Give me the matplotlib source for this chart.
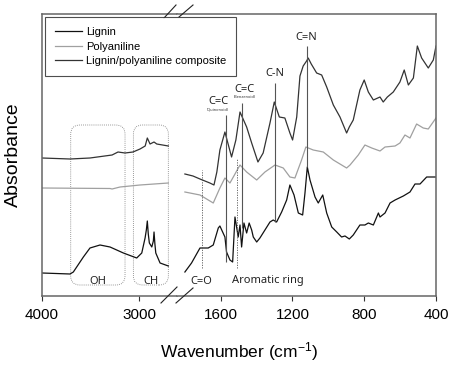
import matplotlib.pyplot as plt
from matplotlib.patches import FancyBboxPatch
from matplotlib.lines import Line2D

plt.rcParams['font.family'] = ['Liberation Sans', 'DejaVu Sans']
plt.rcParams['mathtext.default'] = 'regular'

# ---- high wavenumber region (left panel) ----
hi_comp_wn = [4000, 3712, 3507, 3280, 3219, 3147, 3065, 2993, 2940, 2918, 2890, 2849, 2821, 2702]
hi_comp = [138, 137, 138, 141, 144, 143, 144, 147, 150, 158, 152, 154, 152, 150]

hi_pani_wn = [4000, 3301, 3280, 3198, 2993, 2702]
hi_pani = [108, 107.5, 107, 109, 111, 113]

hi_lig_wn = [4000, 3712, 3678, 3575, 3507, 3404, 3301, 3164, 3027, 2975, 2941, 2928, 2918,
             2908, 2897, 2872, 2856, 2849, 2840, 2831, 2787, 2702]
hi_lig = [23, 22, 24, 39, 48, 51, 49, 43, 38, 43, 58, 66, 75, 62, 53, 49, 55, 64, 52, 43, 33, 30]

# ---- fingerprint region (right panel) ----
lo_comp_wn = [1799, 1754, 1715, 1660, 1637, 1621, 1604, 1576, 1539, 1515, 1492, 1455, 1427, 1392,
              1363, 1325, 1301, 1273, 1242, 1214, 1199, 1176, 1158, 1140, 1121, 1112, 1095, 1065,
              1037, 1009, 972, 935, 898, 883, 861, 824, 800, 777, 749, 712, 694, 671, 638, 601,
              577, 554, 526, 504, 480, 443, 415, 400]
lo_comp = [122, 120, 117, 113, 111, 124, 146, 164, 139, 156, 184, 169, 153, 134, 143, 173, 194,
           179, 178, 163, 156, 179, 220, 230, 235, 238, 232, 223, 221, 209, 191, 179, 163, 169,
           176, 206, 216, 204, 196, 199, 194, 199, 204, 214, 226, 211, 218, 250, 238, 228, 236, 250]

lo_pani_wn = [1799, 1715, 1641, 1604, 1576, 1548, 1492, 1455, 1399, 1353, 1297, 1251, 1214, 1186,
              1149, 1125, 1084, 1028, 972, 898, 879, 833, 796, 758, 712, 684, 628, 601, 573, 545,
              508, 471, 443, 400]
lo_pani = [104, 101, 93, 108, 118, 113, 131, 124, 116, 124, 131, 128, 119, 118, 136, 149, 146,
           144, 136, 128, 131, 141, 151, 148, 145, 149, 150, 153, 161, 158, 172, 168, 167, 178]

lo_lig_wn = [1799, 1762, 1715, 1669, 1641, 1613, 1604, 1576, 1567, 1548, 1533, 1520, 1502, 1492,
             1483, 1470, 1455, 1441, 1427, 1418, 1399, 1381, 1353, 1325, 1307, 1288, 1260, 1232,
             1214, 1191, 1167, 1143, 1130, 1117, 1102, 1074, 1056, 1031, 1009, 981, 953, 926, 907,
             883, 861, 824, 796, 777, 749, 721, 712, 684, 656, 628, 582, 545, 517, 489, 452, 415, 400]
lo_lig = [24, 33, 48, 48, 51, 68, 70, 59, 44, 36, 34, 79, 59, 71, 49, 73, 63, 73, 66, 59, 54, 58,
          66, 74, 76, 74, 84, 96, 111, 101, 83, 81, 103, 129, 116, 99, 93, 101, 83, 69, 64, 59, 60,
          57, 61, 71, 71, 73, 71, 83, 79, 83, 93, 96, 100, 104, 112, 112, 119, 119, 119]

# band assignments (solid lines with labels)
band_wn = [1570, 1483, 1297, 1121]
band_top = [181, 193, 213, 250]
band_bot = [34, 68, 74, 129]
band_lbl = ['C=C', 'C=C', 'C-N', 'C=N']
band_sub = ['(Quinonoid)', '(Benzenoid)', '', '']
band_lbl_x = [1613, 1467, 1297, 1121]
band_lbl_y = [194, 206, 222, 259]

# dashed markers at the bottom
mark_wn = [1706, 1511]
mark_top = [126, 138]
mark_bot = [28, 28]
mark_lbl = ['C=O', 'Aromatic ring']
mark_lbl_x = [1706, 1336]

# rounded regions on the left panel
reg_lbl = ['OH', 'CH']
reg_lo = [3147, 2702]
reg_hi = [3705, 3061]

W, H = 452, 369
fig = plt.figure(figsize=(W / 100, H / 100), dpi=100)

x0, xb, x1 = 42, 177, 436
yt, yb = 14, 296
ax1 = fig.add_axes([x0 / W, 1 - yb / H, (xb - x0) / W, (yb - yt) / H])
ax2 = fig.add_axes([xb / W, 1 - yb / H, (x1 - xb) / W, (yb - yt) / H])

c_lig, c_pani, c_comp = '#111111', '#a0a0a0', '#333333'
lw = 0.9

ax1.plot(hi_lig_wn, hi_lig, color=c_lig, lw=lw, label='Lignin')
ax1.plot(hi_pani_wn, hi_pani, color=c_pani, lw=lw, label='Polyaniline')
ax1.plot(hi_comp_wn, hi_comp, color=c_comp, lw=lw, label='Lignin/polyaniline composite')

ax2.plot(lo_lig_wn, lo_lig, color=c_lig, lw=lw)
ax2.plot(lo_pani_wn, lo_pani, color=c_pani, lw=lw)
ax2.plot(lo_comp_wn, lo_comp, color=c_comp, lw=lw)

ax1.set_xlim(4000, 2613)
ax2.set_xlim(1843, 400)
for ax in (ax1, ax2):
    ax.set_ylim(0, yb - yt)
    ax.set_yticks([])
    for s in ax.spines.values():
        s.set_color('#666666')
        s.set_linewidth(1.1)
    ax.tick_params(axis='x', direction='out', length=3.5, width=0.8, colors='#333333',
                   labelsize=11, pad=5)
    ax.tick_params(axis='x', labelcolor='black')
ax1.spines['right'].set_visible(False)
ax2.spines['left'].set_visible(False)
ax1.set_xticks([4000, 3000])
ax2.set_xticks([1600, 1200, 800, 400])

# regions OH / CH
for lo, hi, lbl in zip(reg_lo, reg_hi, reg_lbl):
    box = FancyBboxPatch((lo, 11), hi - lo, 160, boxstyle='round,pad=0,rounding_size=95',
                         mutation_aspect=0.095, fill=False, ec='#777777', lw=0.6, ls=(0, (1, 1.5)))
    ax1.add_patch(box)
    ax1.text((lo + hi) / 2, 15, lbl, ha='center', va='center', fontsize=8,
             family='Noto Sans', color='#222222')

# band lines
ax2.vlines(band_wn, band_bot, band_top, color='#555555', lw=0.8)
for x, y, t, s in zip(band_lbl_x, band_lbl_y, band_lbl, band_sub):
    ax2.text(x, y, t, ha='center', va='center', fontsize=8, family='Noto Sans', color='#222222')
    if s:
        ax2.text(x, y - 7.5, s, ha='center', va='center', fontsize=2.8, family='Noto Sans',
                 color='#333333')

ax2.vlines(mark_wn, mark_bot, mark_top, color='#555555', lw=0.6, ls=(0, (1.5, 1.5)))
for x, t in zip(mark_lbl_x, mark_lbl):
    ax2.text(x, 15, t, ha='center', va='center', fontsize=8, family='Noto Sans', color='#222222')

# axis labels
fig.text(239 / W, 1 - 352 / H, 'Wavenumber (cm$^{-1}$)', ha='center', va='center', fontsize=12.5)
fig.text(13 / W, 1 - 155 / H, 'Absorbance', ha='center', va='center', rotation=90, fontsize=14)

# break marks
def px(x, y):
    return x / W, 1 - y / H

for (xa, ya), (xc, yc) in [((164, 18), (176, 5)), ((179, 17), (193, 5)),
                           ((161, 303), (177, 287)), ((176, 303), (193, 288))]:
    (fa, ga), (fc, gc) = px(xa, ya), px(xc, yc)
    fig.add_artist(Line2D([fa, fc], [ga, gc], color='#222222', lw=0.8))

handles, labels = ax1.get_legend_handles_labels()
leg = fig.legend(handles, labels, loc='upper left', bbox_to_anchor=px(45, 17), fontsize=8,
                 frameon=True, fancybox=False, edgecolor='#222222', handlelength=2.4,
                 handletextpad=0.4, labelspacing=0.42, borderpad=0.9, borderaxespad=0)
leg.get_frame().set_linewidth(0.8)

fig.savefig('out.png', dpi=100)
